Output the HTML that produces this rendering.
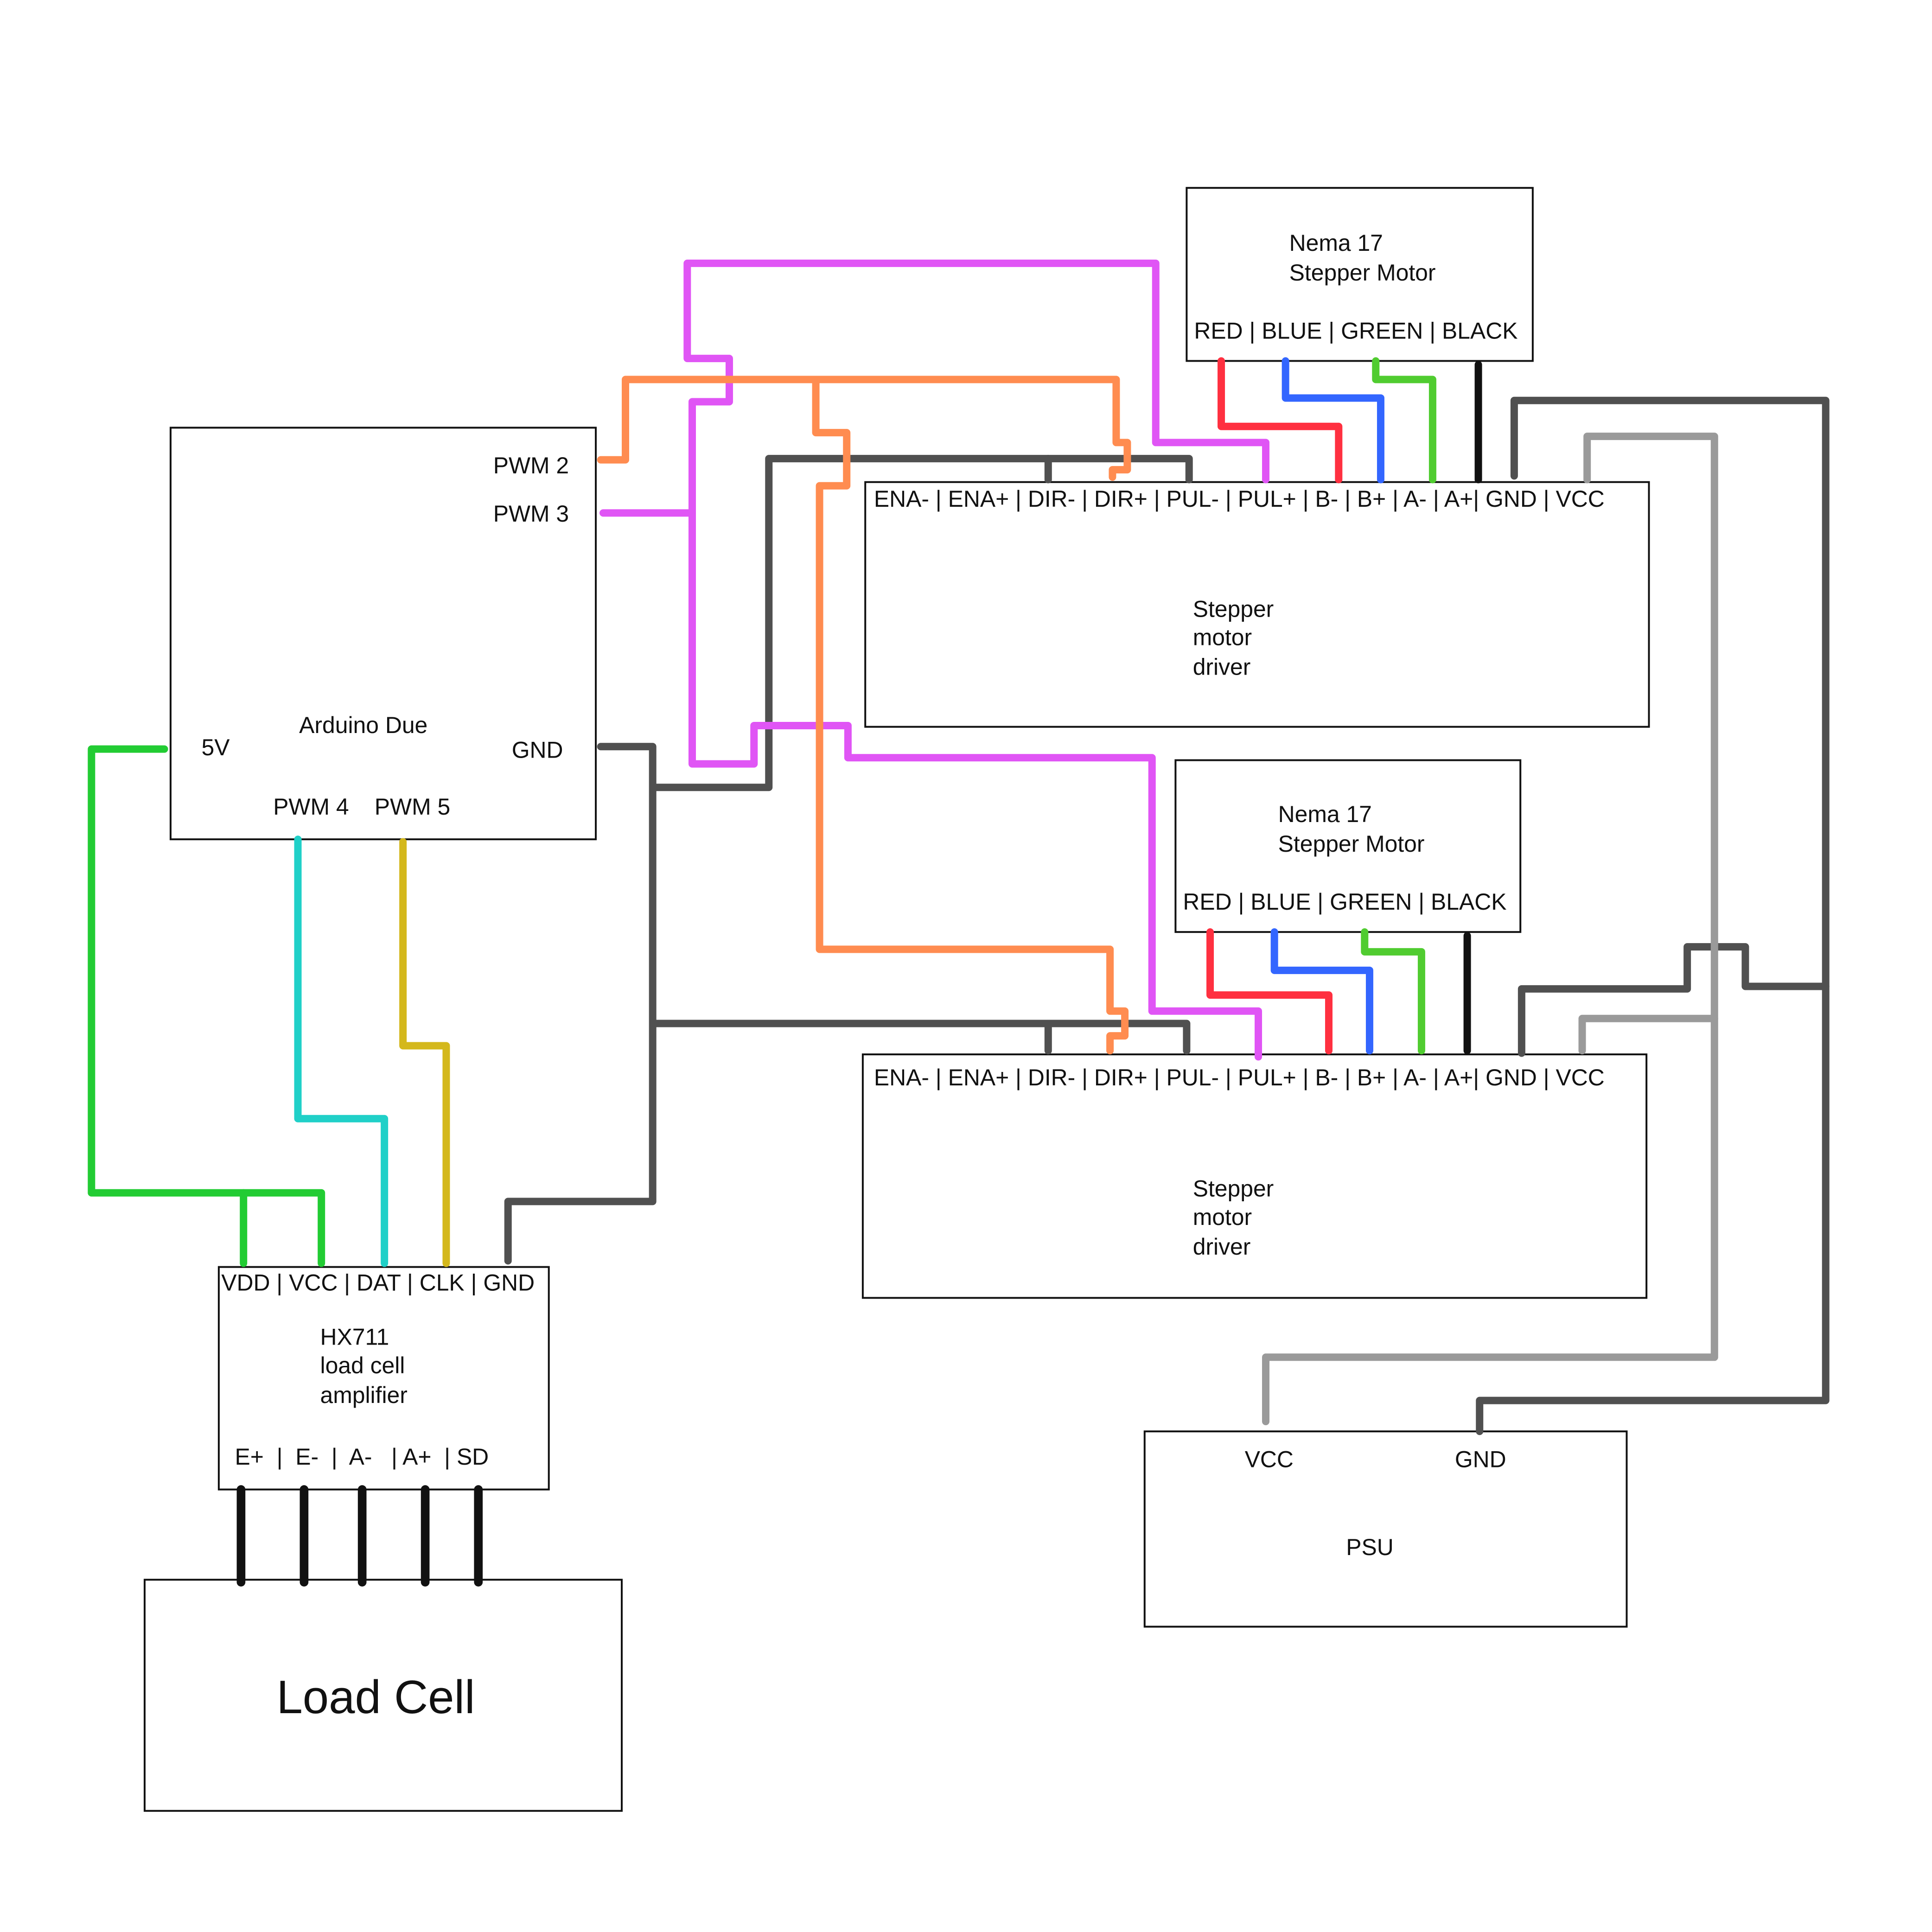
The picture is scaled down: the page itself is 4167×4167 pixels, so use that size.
<!DOCTYPE html>
<html><head><meta charset="utf-8"><style>
html,body{margin:0;padding:0;background:#fff;}
svg{display:block;}
text{font-family:"Liberation Sans",sans-serif;font-size:18.7px;fill:#111;}
</style></head><body>
<svg width="4167" height="4167" viewBox="0 0 1563 1563" xmlns="http://www.w3.org/2000/svg">
<rect width="1563" height="1563" fill="#fff"/>
<g fill="none" stroke="#111" stroke-width="1.5">
<rect x="960" y="152" width="280" height="140"/>
<rect x="138" y="346" width="344" height="333"/>
<rect x="700" y="390" width="634" height="198"/>
<rect x="951" y="615" width="279" height="139"/>
<rect x="698" y="853" width="634" height="197"/>
<rect x="177" y="1025" width="267" height="180"/>
<rect x="117" y="1278" width="386" height="187"/>
<rect x="926" y="1158" width="390" height="158"/>
</g>
<g fill="none" stroke-width="6" stroke-linejoin="round" stroke-linecap="round">
<g stroke="#505050">
<polyline points="486,604 528,604 528,972 411,972 411,1020"/>
<polyline points="530,637 622,637 622,371 962,371 962,388"/>
<polyline points="848,371 848,388"/>
<polyline points="530,828 960,828 960,850"/>
<polyline points="848,828 848,850"/>
<polyline points="1225,385 1225,324 1477,324 1477,1133 1197,1133 1197,1158"/>
<polyline points="1231,852 1231,800 1365,800 1365,766 1412,766 1412,798 1477,798"/>
</g>
<g stroke="#9a9a9a">
<polyline points="1284,388 1284,353 1387,353 1387,1098 1024,1098 1024,1150"/>
<polyline points="1280,850 1280,824 1387,824"/>
</g>
<g stroke="#e055f5">
<polyline points="1024,388 1024,358 935,358 935,213 556,213 556,290 590,290 590,325 560,325 560,618 610,618 610,587 686,587 686,613 932,613 932,818 1018,818 1018,855"/>
<polyline points="488,415 560,415"/>
</g>
<g stroke="#ff8c50">
<polyline points="486,372 506,372 506,307 903,307 903,358 912,358 912,380 900,380 900,386"/>
<polyline points="660,307 660,350 685,350 685,393 663,393 663,768 898,768 898,818 910,818 910,838 898,838 898,850"/>
</g>
<polyline stroke="#ff3040" points="988,292 988,345 1083,345 1083,388"/>
<polyline stroke="#3366ff" points="1040,292 1040,322 1117,322 1117,388"/>
<polyline stroke="#50cc30" points="1113,292 1113,307 1159,307 1159,388"/>
<polyline stroke="#111" points="1196,295 1196,388"/>
<polyline stroke="#ff3040" points="979,754 979,805 1075,805 1075,850"/>
<polyline stroke="#3366ff" points="1031,754 1031,785 1108,785 1108,850"/>
<polyline stroke="#50cc30" points="1104,754 1104,770 1150,770 1150,850"/>
<polyline stroke="#111" points="1187,757 1187,850"/>
<polyline stroke="#22cc33" points="133,606 74,606 74,965 260,965 260,1022"/>
<polyline stroke="#22cc33" points="197,965 197,1022"/>
<polyline stroke="#20d0c8" points="241,679 241,905 311,905 311,1022"/>
<polyline stroke="#d4b81c" points="326,681 326,846 361,846 361,1022"/>
<g stroke="#111" stroke-width="7">
<line x1="195" y1="1205" x2="195" y2="1280"/>
<line x1="246" y1="1205" x2="246" y2="1280"/>
<line x1="293" y1="1205" x2="293" y2="1280"/>
<line x1="344" y1="1205" x2="344" y2="1280"/>
<line x1="387" y1="1205" x2="387" y2="1280"/>
</g>
</g>
<text x="1043" y="203">Nema 17</text>
<text x="1043" y="227">Stepper Motor</text>
<text x="966" y="274">RED | BLUE | GREEN | BLACK</text>
<text x="399" y="383">PWM 2</text>
<text x="399" y="422">PWM 3</text>
<text x="242" y="593">Arduino Due</text>
<text x="163" y="611">5V</text>
<text x="414" y="613">GND</text>
<text x="221" y="659">PWM 4</text>
<text x="303" y="659">PWM 5</text>
<text x="707" y="410">ENA- | ENA+ | DIR- | DIR+ | PUL- | PUL+ | B- | B+ | A- | A+| GND | VCC</text>
<text x="965" y="499">Stepper</text>
<text x="965" y="522">motor</text>
<text x="965" y="546">driver</text>
<text x="1034" y="665">Nema 17</text>
<text x="1034" y="689">Stepper Motor</text>
<text x="957" y="736">RED | BLUE | GREEN | BLACK</text>
<text x="707" y="878">ENA- | ENA+ | DIR- | DIR+ | PUL- | PUL+ | B- | B+ | A- | A+| GND | VCC</text>
<text x="965" y="968">Stepper</text>
<text x="965" y="991">motor</text>
<text x="965" y="1015">driver</text>
<text x="179" y="1044">VDD | VCC | DAT | CLK | GND</text>
<text x="259" y="1088">HX711</text>
<text x="259" y="1111">load cell</text>
<text x="259" y="1135">amplifier</text>
<text x="190" y="1185" xml:space="preserve">E+  |  E-  |  A-   | A+  | SD</text>
<text x="304" y="1386" text-anchor="middle" style="font-size:38px">Load Cell</text>
<text x="1007" y="1187">VCC</text>
<text x="1177" y="1187">GND</text>
<text x="1089" y="1258">PSU</text>
</svg>
</body></html>
